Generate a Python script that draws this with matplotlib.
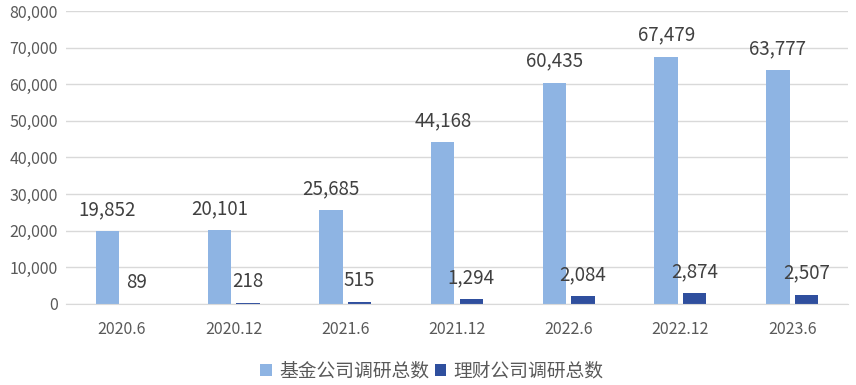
import matplotlib.pyplot as plt
import numpy as np

plt.rcParams['font.family'] = ['Noto Sans CJK SC', 'DejaVu Sans']

periods = ['2020.6', '2020.12', '2021.6', '2021.12', '2022.6', '2022.12', '2023.6']
fund_visits = [19852, 20101, 25685, 44168, 60435, 67479, 63777]
wealth_visits = [89, 218, 515, 1294, 2084, 2874, 2507]
series_names = ['基金公司调研总数', '理财公司调研总数']

light = '#8EB4E3'
dark = '#2F4F9E'
txt = '#595959'

fig = plt.figure(figsize=(8.56, 3.85), dpi=100)
ax = fig.add_axes([66 / 856, 81 / 385, 782 / 856, 293 / 385])

x = np.arange(len(periods))
w = 0.21
gap = 0.045
b1 = ax.bar(x - (w + gap) / 2, fund_visits, w, color=light, label=series_names[0], zorder=2)
b2 = ax.bar(x + (w + gap) / 2, wealth_visits, w, color=dark, label=series_names[1], zorder=2)

for bars in (b1, b2):
    for r in bars:
        ax.annotate(f'{int(r.get_height()):,}', (r.get_x() + r.get_width() / 2, r.get_height()),
                    xytext=(0, 8), textcoords='offset points', ha='center', va='bottom',
                    fontsize=13.5, color='#404040')

ax.set_ylim(0, 80000)
ax.set_yticks(range(0, 80001, 10000))
ax.set_yticklabels([f'{v:,}' for v in range(0, 80001, 10000)])
ax.set_xlim(-0.5, len(periods) - 0.5)
ax.set_xticks(x)
ax.set_xticklabels(periods)
ax.grid(axis='y', color='#D9D9D9', linewidth=1, zorder=0)
for s in ['top', 'right', 'left']:
    ax.spines[s].set_visible(False)
ax.spines['bottom'].set_color('#D9D9D9')
ax.tick_params(axis='both', length=0, colors=txt, labelsize=11.5)
ax.tick_params(axis='x', pad=12)
ax.tick_params(axis='y', pad=6)

fig.legend(loc='center', bbox_to_anchor=(432 / 856, 14 / 385), ncol=2, frameon=False,
           fontsize=13.5, labelcolor=txt, handlelength=0.6, handleheight=0.6,
           handletextpad=0.4, columnspacing=0.3)

fig.savefig('out.png', dpi=100)
